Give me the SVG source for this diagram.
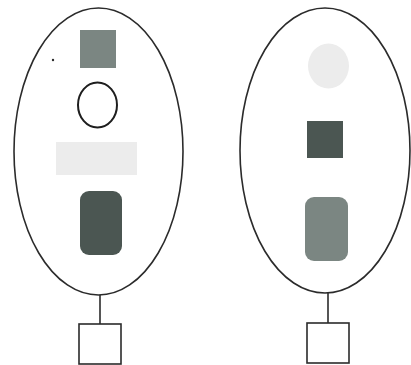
<svg xmlns="http://www.w3.org/2000/svg" width="411" height="365" viewBox="0 0 411 365">
  <style>
    .outline { fill: none; stroke: #2b2b2b; stroke-width: 1.6; }
    .box { fill: #ffffff; stroke: #2b2b2b; stroke-width: 1.6; }
    .link { stroke: #2b2b2b; stroke-width: 1.6; fill: none; }
    .mid { fill: #7b8682; }
    .dark { fill: #4b5652; }
    .pale { fill: #ececec; }
  </style>
  <rect width="411" height="365" fill="#ffffff"/>

  <!-- connectors: container to box -->
  <g id="connectors">
    <line class="link" x1="100" y1="295" x2="100" y2="324"/>
    <line class="link" x1="328" y1="293" x2="328" y2="323"/>
  </g>

  <!-- left container -->
  <g id="left-group">
    <ellipse class="outline" cx="98.5" cy="151.5" rx="84.5" ry="143.5"/>
    <circle cx="53" cy="60" r="1.2" fill="#2b2b2b"/>
  </g>
  <g id="left-square"><rect class="mid" x="80" y="30" width="36" height="38"/></g>
  <g id="left-circle"><ellipse cx="97.5" cy="105" rx="19.5" ry="22.5" fill="#ffffff" stroke="#1e1e1e" stroke-width="2"/></g>
  <g id="left-bar"><rect class="pale" x="56" y="142" width="81" height="33"/></g>
  <g id="left-block"><rect class="dark" x="80" y="191" width="42" height="64" rx="9"/></g>
  <g id="left-box"><rect class="box" x="79" y="324" width="42" height="40"/></g>

  <!-- right container -->
  <g id="right-group">
    <ellipse class="outline" cx="325" cy="150.5" rx="85" ry="142.5"/>
  </g>
  <g id="right-circle"><ellipse class="pale" cx="328.5" cy="66" rx="20.5" ry="22.5"/></g>
  <g id="right-square"><rect class="dark" x="307" y="121" width="36" height="37"/></g>
  <g id="right-block"><rect class="mid" x="305" y="197" width="43" height="64" rx="9" fill="#808a86"/></g>
  <g id="right-box"><rect class="box" x="307" y="323" width="42" height="40"/></g>
</svg>
